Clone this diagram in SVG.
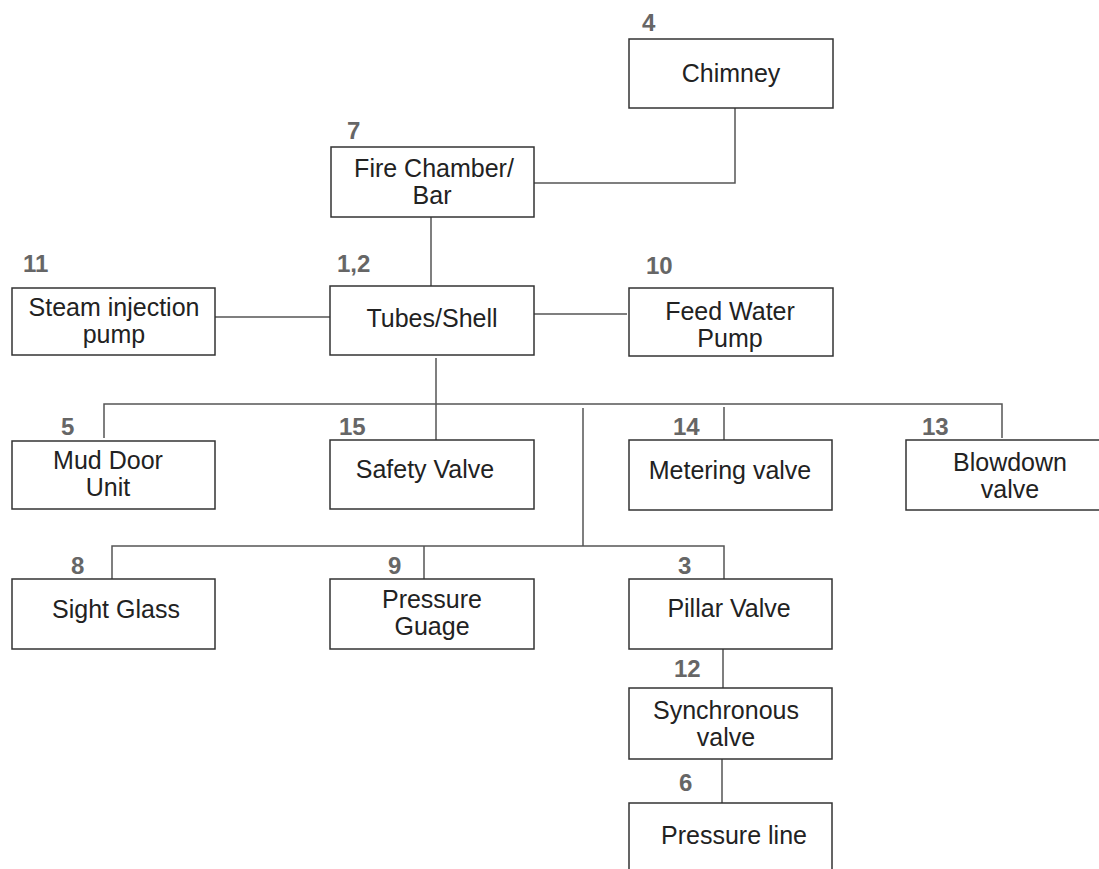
<svg xmlns="http://www.w3.org/2000/svg" width="1099" height="869" viewBox="0 0 1099 869">
<style>
.box{fill:#fff;stroke:#333;stroke-width:1.5}
.t{font-family:"Liberation Sans",Arial,sans-serif;font-size:25px;fill:#222;text-anchor:middle}
.n{font-family:"Liberation Sans",Arial,sans-serif;font-size:24px;font-weight:bold;fill:#666}
.c{fill:none;stroke:#555;stroke-width:1.5}
</style>
<rect width="1099" height="869" fill="#fff"/>
<g id="connectors">
<path class="c" d="M735,108 V183 H534"/>
<path class="c" d="M431,217 V286"/>
<path class="c" d="M215,317 H331"/>
<path class="c" d="M534,314 H627"/>
<path class="c" d="M436,358 V440"/>
<path class="c" d="M104,438 V404 H1002 V438"/>
<path class="c" d="M724,407 V440"/>
<path class="c" d="M583,408 V546"/>
<path class="c" d="M112,579 V546 H724 V579"/>
<path class="c" d="M424,546 V579"/>
<path class="c" d="M723,649 V688"/>
<path class="c" d="M722,759 V803"/>
</g>
<g id="chimney"><rect class="box" x="629" y="39" width="204" height="69"/><text class="n" x="642" y="31">4</text><text class="t" x="731" y="82">Chimney</text></g>
<g id="fire-chamber"><rect class="box" x="331" y="147" width="203" height="70"/><text class="n" x="347" y="139">7</text><text class="t" x="434" y="177">Fire Chamber/</text><text class="t" x="432" y="204">Bar</text></g>
<g id="steam-injection"><rect class="box" x="12" y="288" width="203" height="67"/><text class="n" x="23" y="272">11</text><text class="t" x="114" y="316">Steam injection</text><text class="t" x="114" y="343">pump</text></g>
<g id="tubes-shell"><rect class="box" x="330" y="286" width="204" height="69"/><text class="n" x="337" y="272">1,2</text><text class="t" x="432" y="327">Tubes/Shell</text></g>
<g id="feed-water"><rect class="box" x="629" y="288" width="204" height="68"/><text class="n" x="646" y="274">10</text><text class="t" x="730" y="320">Feed Water</text><text class="t" x="730" y="347">Pump</text></g>
<g id="mud-door"><rect class="box" x="12" y="441" width="203" height="68"/><text class="n" x="61" y="435">5</text><text class="t" x="108" y="469">Mud Door</text><text class="t" x="108" y="496">Unit</text></g>
<g id="safety-valve"><rect class="box" x="330" y="440" width="204" height="69"/><text class="n" x="339" y="435">15</text><text class="t" x="425" y="478">Safety Valve</text></g>
<g id="metering-valve"><rect class="box" x="629" y="440" width="203" height="70"/><text class="n" x="673" y="435">14</text><text class="t" x="730" y="479">Metering valve</text></g>
<g id="blowdown-valve"><rect class="box" x="906" y="440" width="210" height="70"/><text class="n" x="922" y="435">13</text><text class="t" x="1010" y="471">Blowdown</text><text class="t" x="1010" y="498">valve</text></g>
<g id="sight-glass"><rect class="box" x="12" y="579" width="203" height="70"/><text class="n" x="71" y="574">8</text><text class="t" x="116" y="618">Sight Glass</text></g>
<g id="pressure-guage"><rect class="box" x="330" y="579" width="204" height="70"/><text class="n" x="388" y="574">9</text><text class="t" x="432" y="608">Pressure</text><text class="t" x="432" y="635">Guage</text></g>
<g id="pillar-valve"><rect class="box" x="629" y="579" width="203" height="70"/><text class="n" x="678" y="574">3</text><text class="t" x="729" y="617">Pillar Valve</text></g>
<g id="synchronous-valve"><rect class="box" x="629" y="688" width="203" height="71"/><text class="n" x="674" y="677">12</text><text class="t" x="726" y="719">Synchronous</text><text class="t" x="726" y="746">valve</text></g>
<g id="pressure-line"><rect class="box" x="629" y="803" width="203" height="80"/><text class="n" x="679" y="791">6</text><text class="t" x="734" y="844">Pressure line</text></g>
</svg>
